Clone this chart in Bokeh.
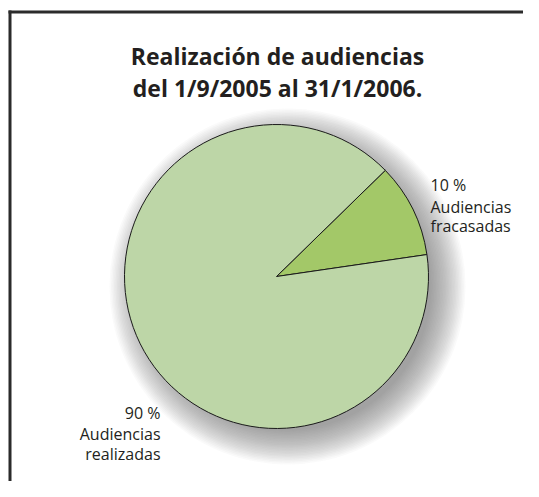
import numpy as np
from bokeh.plotting import figure
from bokeh.models import Range1d, ColumnDataSource
from bokeh.core.properties import value
from bokeh.embed import file_html
from bokeh.resources import INLINE

# ---- data ----
title_lines = ["Realización de audiencias", "del 1/9/2005 al 31/1/2006."]
categories = ["Audiencias fracasadas", "Audiencias realizadas"]
values = [10, 90]
pct_labels = ["10 %", "90 %"]
label_lines = [["Audiencias", "fracasadas"], ["Audiencias", "realizadas"]]
colors = ["#a3c868", "#bdd6a7"]

# ---- layout (screen pixel based coordinates) ----
W, H = 523, 481
X0, Y0 = 0, 0
SCREEN_H = 497

def sy(y):
    return SCREEN_H - y

cx, cy = 276, sy(276)
R = 152
start_deg = 8.3

p = figure(width=W, height=H, output_backend="svg", toolbar_location=None,
           x_range=Range1d(X0, X0 + W), y_range=Range1d(SCREEN_H - (Y0 + H), SCREEN_H - Y0),
           x_axis_location=None, y_axis_location=None, min_border=0)
p.outline_line_color = None
p.grid.visible = False
p.background_fill_color = "white"
p.border_fill_color = "white"

# frame (left and top edges visible) drawn as filled bands
p.quad(left=[8, 8], right=[11, X0 + W], top=[sy(10), sy(10)], bottom=[SCREEN_H - (Y0 + H), sy(13)],
       fill_color="#2b2b2b", line_color=None)

# soft drop shadow
N = 24
for i in range(N):
    r = R - 8 + 34 * (1 - i / (N - 1))
    p.circle(x=[cx + 11], y=[cy - 10], radius=r, fill_color="#5e6a52", fill_alpha=0.03, line_color=None)

# pie
vals = np.array(values, dtype=float)
frac = vals / vals.sum()
ends = start_deg + np.cumsum(frac) * 360
starts = np.concatenate([[start_deg], ends[:-1]])
src = ColumnDataSource(dict(start=np.radians(starts), end=np.radians(ends), color=colors, cat=categories))
p.wedge(x=cx, y=cy, radius=R, start_angle="start", end_angle="end", fill_color="color",
        line_color="#1a1a1a", line_width=1, source=src)

# title
tfont = value("Open Sans")
p.text(x=[277, 277], y=[sy(55), sy(87)], text=title_lines, text_font=tfont, text_font_style="bold",
       text_font_size="23px", text_color="#231f20", text_align="center", text_baseline="alphabetic")

# labels
lfont = value("Open Sans")
p.text(x=[430, 430, 430], y=[sy(184), sy(206), sy(225)], text=[pct_labels[0]] + label_lines[0],
       text_font=lfont, text_font_size="16px", text_color="#231f20", text_align="left",
       text_baseline="alphabetic")
p.text(x=[160, 160, 160], y=[sy(412), sy(433), sy(453)], text=[pct_labels[1]] + label_lines[1],
       text_font=lfont, text_font_size="16px", text_color="#231f20", text_align="right",
       text_baseline="alphabetic")

open("out.html", "w").write(file_html(p, INLINE))
